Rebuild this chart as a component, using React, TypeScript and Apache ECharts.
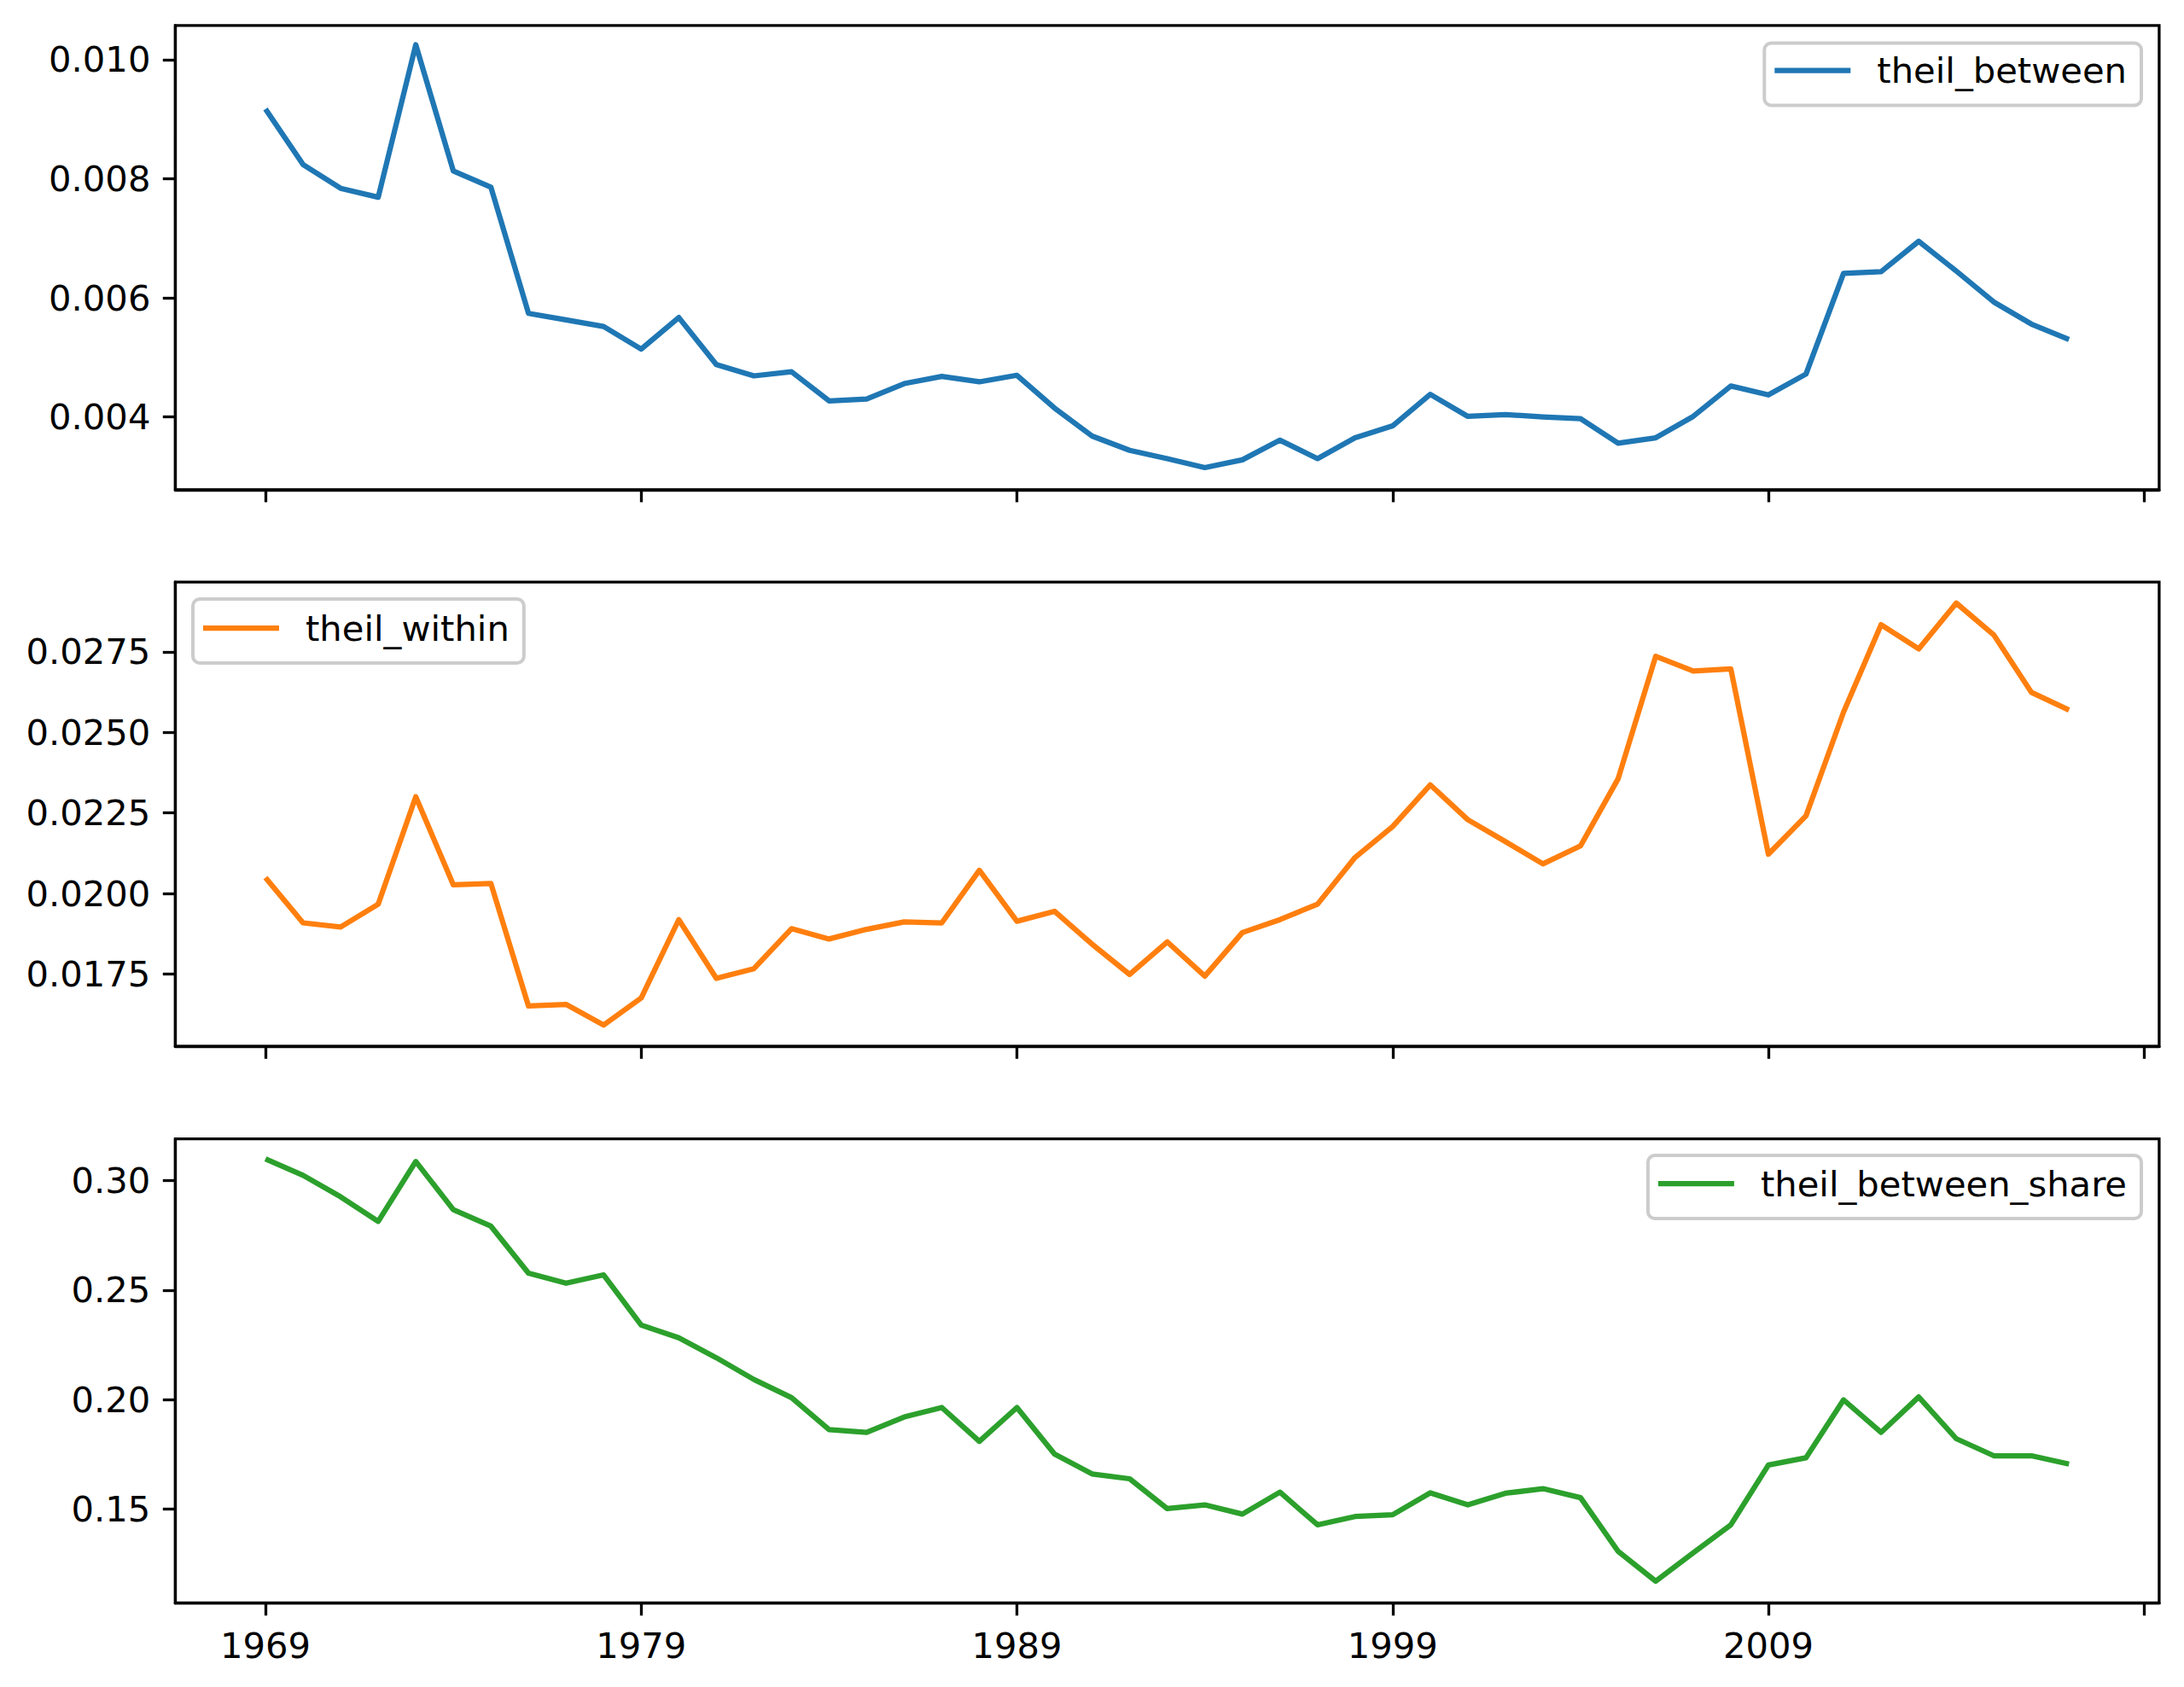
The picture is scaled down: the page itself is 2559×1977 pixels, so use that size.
import React, { useEffect, useRef } from "react";
import * as echarts from "echarts";

const years = [
  1969, 1970, 1971, 1972, 1973, 1974, 1975, 1976, 1977, 1978,
  1979, 1980, 1981, 1982, 1983, 1984, 1985, 1986, 1987, 1988,
  1989, 1990, 1991, 1992, 1993, 1994, 1995, 1996, 1997, 1998,
  1999, 2000, 2001, 2002, 2003, 2004, 2005, 2006, 2007, 2008,
  2009, 2010, 2011, 2012, 2013, 2014, 2015, 2016, 2017,
];

const theilBetween = [
  0.00917, 0.00824, 0.00784, 0.00769, 0.01025, 0.00813, 0.00786, 0.00574, 0.00563, 0.00552,
  0.00514, 0.00567, 0.00488, 0.00469, 0.00476, 0.00427, 0.0043, 0.00456, 0.00468, 0.00459,
  0.0047, 0.00415, 0.00368, 0.00344, 0.0033, 0.00315, 0.00328, 0.00361, 0.0033, 0.00365,
  0.00385, 0.00438, 0.00401, 0.00404, 0.004, 0.00397, 0.00356, 0.00365, 0.00401, 0.00452,
  0.00437, 0.00472, 0.00641, 0.00644, 0.00695, 0.00645, 0.00593, 0.00556, 0.0053,
];

const theilWithin = [
  0.02049, 0.01909, 0.01896, 0.01967, 0.023, 0.02027, 0.02031, 0.01651, 0.01656, 0.01592,
  0.01676, 0.01919, 0.01737, 0.01767, 0.01891, 0.01859, 0.01889, 0.01912, 0.01909, 0.02072,
  0.01914, 0.01945, 0.01843, 0.01749, 0.0185, 0.01744, 0.01879, 0.01919, 0.01967, 0.02112,
  0.02208, 0.02337, 0.02229, 0.02161, 0.02092, 0.02148, 0.02356, 0.02736, 0.0269, 0.02697,
  0.02122, 0.02241, 0.02563, 0.02834, 0.02759, 0.02901, 0.02802, 0.02624, 0.02569,
];

const theilBetweenShare = [
  0.3098, 0.3023, 0.2925, 0.2813, 0.3086, 0.2866, 0.2791, 0.2577, 0.2531, 0.2569,
  0.234, 0.2282, 0.2191, 0.2092, 0.2009, 0.1863, 0.1851, 0.1921, 0.1964, 0.181,
  0.1964, 0.1752, 0.1661, 0.1639, 0.1503, 0.152, 0.1478, 0.1578, 0.1429, 0.1467,
  0.1475, 0.1575, 0.152, 0.1573, 0.1594, 0.1553, 0.1308, 0.1172, 0.1301, 0.1429,
  0.1702, 0.1735, 0.1999, 0.1851, 0.2012, 0.1822, 0.1744, 0.1744, 0.1706,
];

const seriesNames = ["theil_between", "theil_within", "theil_between_share"];
const seriesColors = ["#1f77b4", "#ff7f0e", "#2ca02c"];

const xTicks = [1969, 1979, 1989, 1999, 2009, 2019];
const xLabels = [1969, 1979, 1989, 1999, 2009];
const yTicks1 = [0.004, 0.006, 0.008, 0.01];
const yTicks2 = [0.0175, 0.02, 0.0225, 0.025, 0.0275];
const yTicks3 = [0.15, 0.2, 0.25, 0.3];

const FONT = "DejaVu Sans";
const FS = 41.7;
const LW = 3.3;

export default function App() {
  const ref = useRef<HTMLDivElement>(null);

  useEffect(() => {
    if (!ref.current) return;
    const chart = echarts.init(ref.current, null, { renderer: "svg" });

    const gridTops = [29.9, 682.2, 1334.7];
    const gridH = 544;
    const yRanges = [
      [0.002778, 0.010574],
      [0.01526, 0.02966],
      [0.1072, 0.3189],
    ];
    const yTickSets = [yTicks1, yTicks2, yTicks3];
    const yDecimals = [3, 4, 2];
    const seriesData = [theilBetween, theilWithin, theilBetweenShare];

    const grids = gridTops.map((top) => ({
      left: 205.4,
      top,
      width: 2324.5,
      height: gridH,
      show: true,
      borderColor: "#000",
      borderWidth: LW,
      backgroundColor: "#fff",
      containLabel: false,
    }));

    const xAxes = gridTops.map((_, i) => ({
      type: "value",
      gridIndex: i,
      min: 1966.6,
      max: 2019.4,
      splitLine: { show: false },
      axisLine: { show: true, lineStyle: { color: "#000", width: LW } },
      axisTick: {
        show: true,
        inside: false,
        length: 14.6,
        customValues: xTicks,
        lineStyle: { color: "#000", width: LW },
      },
      axisLabel: {
        show: i === 2,
        customValues: xLabels,
        margin: 29,
        color: "#000",
        fontFamily: FONT,
        fontSize: FS,
        formatter: (v: number) => String(Math.round(v)),
      },
    }));

    const yAxes = gridTops.map((_, i) => ({
      type: "value",
      gridIndex: i,
      min: yRanges[i][0],
      max: yRanges[i][1],
      splitLine: { show: false },
      axisLine: { show: true, lineStyle: { color: "#000", width: LW } },
      axisTick: {
        show: true,
        inside: false,
        length: 14.6,
        customValues: yTickSets[i],
        lineStyle: { color: "#000", width: LW },
      },
      axisLabel: {
        show: true,
        customValues: yTickSets[i],
        margin: 29,
        color: "#000",
        fontFamily: FONT,
        fontSize: FS,
        formatter: (v: number) => v.toFixed(yDecimals[i]),
      },
    }));

    const series = seriesData.map((vals, i) => ({
      name: seriesNames[i],
      type: "line",
      xAxisIndex: i,
      yAxisIndex: i,
      data: years.map((y, k) => [y, vals[k]]),
      showSymbol: false,
      symbol: "none",
      lineStyle: { color: seriesColors[i], width: 6.25, join: "round", cap: "butt" },
      itemStyle: { color: seriesColors[i] },
      z: 3,
    }));

    const legendBase = {
      orient: "horizontal",
      icon: "rect",
      itemWidth: 89,
      itemHeight: 6.25,
      backgroundColor: "rgba(255,255,255,0.8)",
      borderColor: "#cccccc",
      borderWidth: 4,
      borderRadius: 8,
      selectedMode: false,
      textStyle: {
        color: "#000",
        fontFamily: FONT,
        fontSize: FS,
        padding: [0, 0, 0, 26],
      },
    };

    const legends = [
      { ...legendBase, data: [seriesNames[0]], right: 50, top: 50.5, padding: [11, 17, 20, 12] },
      { ...legendBase, data: [seriesNames[1]], left: 226, top: 702, padding: [13, 17, 20, 12] },
      { ...legendBase, data: [seriesNames[2]], right: 50, top: 1354, padding: [12, 17, 20, 12] },
    ];

    chart.setOption({
      animation: false,
      backgroundColor: "#fff",
      grid: grids,
      xAxis: xAxes,
      yAxis: yAxes,
      legend: legends,
      series,
    });

    return () => {
      chart.dispose();
    };
  }, []);

  return (
    <div
      ref={ref}
      style={{ position: "absolute", left: 0, top: 0, width: "2559px", height: "1977px" }}
    />
  );
}
